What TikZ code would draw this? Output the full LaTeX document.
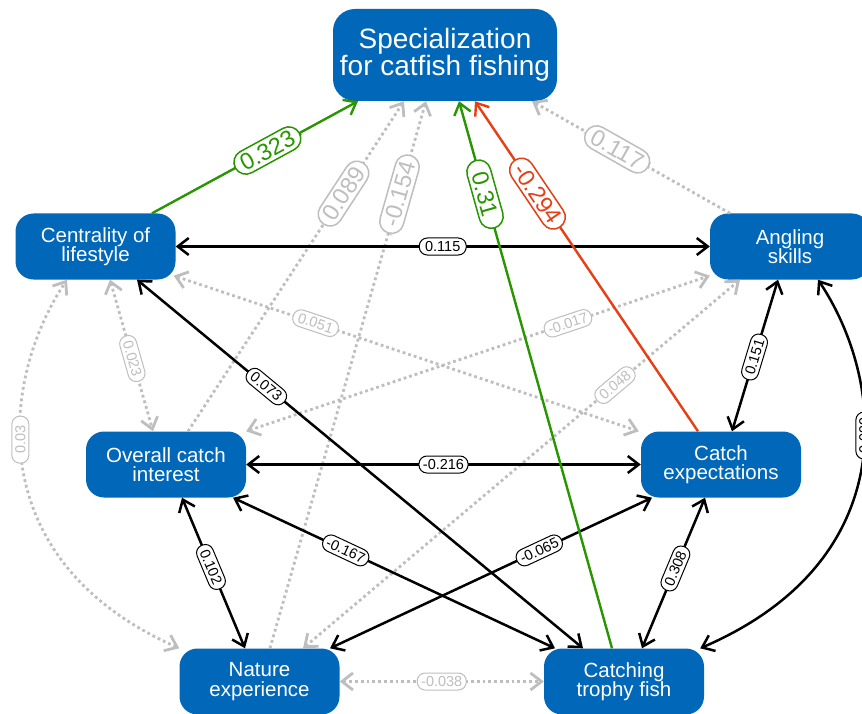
\documentclass[tikz,border=0pt]{standalone}
\usepackage{fontspec}
\setmainfont{Liberation Sans}
\usetikzlibrary{arrows.meta}
\definecolor{nodeblue}{RGB}{0,103,185}
\definecolor{egreen}{RGB}{40,150,0}
\definecolor{ered}{RGB}{232,62,20}
\definecolor{egrey}{RGB}{190,190,190}
\tikzset{
 box/.style={fill=nodeblue, text=white, rounded corners=18pt, minimum width=160pt, minimum height=66pt, align=center, font=\fontsize{20.5}{19.5}\selectfont, inner sep=0pt},
 bigbox/.style={box, rounded corners=22pt, minimum width=224pt, minimum height=92pt, font=\fontsize{28}{26}\selectfont},
 sigedge/.style={color=black, line width=2.5pt},
 nsigedge/.style={color=egrey, line width=2.8pt, dash pattern=on 2.8pt off 3pt},
 posedge/.style={color=egreen, line width=2.4pt},
 negedge/.style={color=ered, line width=2.4pt},
 slab/.style={fill=white, draw, solid, rounded corners=8pt, line width=1pt, font=\fontsize{14.5}{14.5}\selectfont, minimum width=47pt, minimum height=17pt, inner xsep=4pt, inner ysep=1pt},
 blab/.style={slab, rounded corners=12pt, line width=1.5pt, font=\fontsize{23.5}{23.5}\selectfont, minimum width=70pt, minimum height=24pt, inner xsep=7pt},
 >={Straight Barb[length=11pt,width=17pt]},
}
\begin{document}
\begin{tikzpicture}[x=1pt,y=-1pt]
\useasboundingbox (0,0) rectangle (862,714);
\clip (0,0) rectangle (862,714);
% nodes
\node[bigbox] (spec) at (445,55) {Specialization\\for catfish fishing};
\node[box] (cent) at (95.5,246.5) {Centrality of\\lifestyle};
\node[box] (angl) at (790,246.5) {Angling\\skills};
\node[box] (over) at (166,464.5) {Overall catch\\interest};
\node[box] (cexp) at (721,464.5) {Catch\\expectations};
\node[box] (nat) at (259.5,681.5) {Nature\\experience};
\node[box] (trop) at (624,681.5) {Catching\\trophy fish};
% non-significant (grey dotted)
\draw[nsigedge,->] ([xshift=22pt]over.north) -- node[pos=0.72,sloped,blab]{0.089} ([xshift=-41pt]spec.south);
\draw[nsigedge,->] ([xshift=10.5pt]nat.north) -- node[pos=0.83,sloped,blab]{-0.154} ([xshift=-19pt]spec.south);
\draw[nsigedge,->] ([xshift=-60pt]angl.north) -- node[pos=0.57,sloped,blab]{0.117} ([xshift=87pt]spec.south);
\draw[nsigedge,<->] ([xshift=14.5pt]cent.south) -- node[pos=0.52,sloped,slab]{0.023} ([xshift=-13pt]over.north);
\draw[nsigedge,<->] ([xshift=-2pt,yshift=4pt]cent.south east) -- node[pos=0.305,sloped,slab]{0.051} ([xshift=-2pt]cexp.north west);
\draw[nsigedge,<->] (over.north east) -- node[pos=0.694,sloped,slab]{-0.017} ([yshift=4pt]angl.south west);
\draw[nsigedge,<->] ([xshift=43.5pt]nat.north) -- node[pos=0.714,sloped,slab]{0.048} ([xshift=-50pt]angl.south);
\draw[nsigedge,<->] (nat.east) -- node[slab]{-0.038} (trop.west);
\draw[nsigedge,<->] (nat.north west) .. controls (-20,560) and (0,380) .. node[pos=0.57,rotate=90,slab]{0.03} ([xshift=-28.5pt]cent.south);
% significant (black)
\draw[sigedge,<->] (cent.east) -- node[slab]{0.115} (angl.west);
\draw[sigedge,<->] (over.east) -- node[slab]{-0.216} (cexp.west);
\draw[sigedge,<->] ([xshift=41.5pt]cent.south) -- node[pos=0.29,sloped,slab]{0.073} ([xshift=-41pt]trop.north);
\draw[sigedge,<->] ([xshift=16pt]over.south) -- node[pos=0.46,sloped,slab]{0.102} ([xshift=-14.5pt]nat.north);
\draw[sigedge,<->] ([xshift=67pt]over.south) -- node[pos=0.35,sloped,slab]{-0.167} ([xshift=-69pt]trop.north);
\draw[sigedge,<->] ([xshift=70.5pt]nat.north) -- node[pos=0.65,sloped,slab]{-0.065} ([xshift=-69pt]cexp.south);
\draw[sigedge,<->] ([xshift=-12pt]angl.south) -- node[pos=0.51,sloped,slab]{0.151} ([xshift=11pt]cexp.north);
\draw[sigedge,<->] ([xshift=-16pt]cexp.south) -- node[pos=0.47,sloped,slab]{0.308} ([xshift=18pt]trop.north);
\draw[sigedge,<->] ([xshift=28pt]angl.south) .. controls (885,380) and (905,560) .. node[pos=0.42,rotate=90,slab]{0.099} ([xshift=-4pt]trop.north east);
% paths to specialization (coloured)
\draw[posedge,->] ([xshift=56.5pt]cent.north) -- node[pos=0.56,sloped,blab]{0.323} ([xshift=-87pt]spec.south);
\draw[posedge,->] ([xshift=-12pt]trop.north) -- node[pos=0.83,sloped,blab]{0.31} ([xshift=14pt]spec.south);
\draw[negedge,->] ([xshift=-23pt]cexp.north) -- node[pos=0.72,sloped,blab]{-0.294} ([xshift=30pt]spec.south);
\end{tikzpicture}
\end{document}
